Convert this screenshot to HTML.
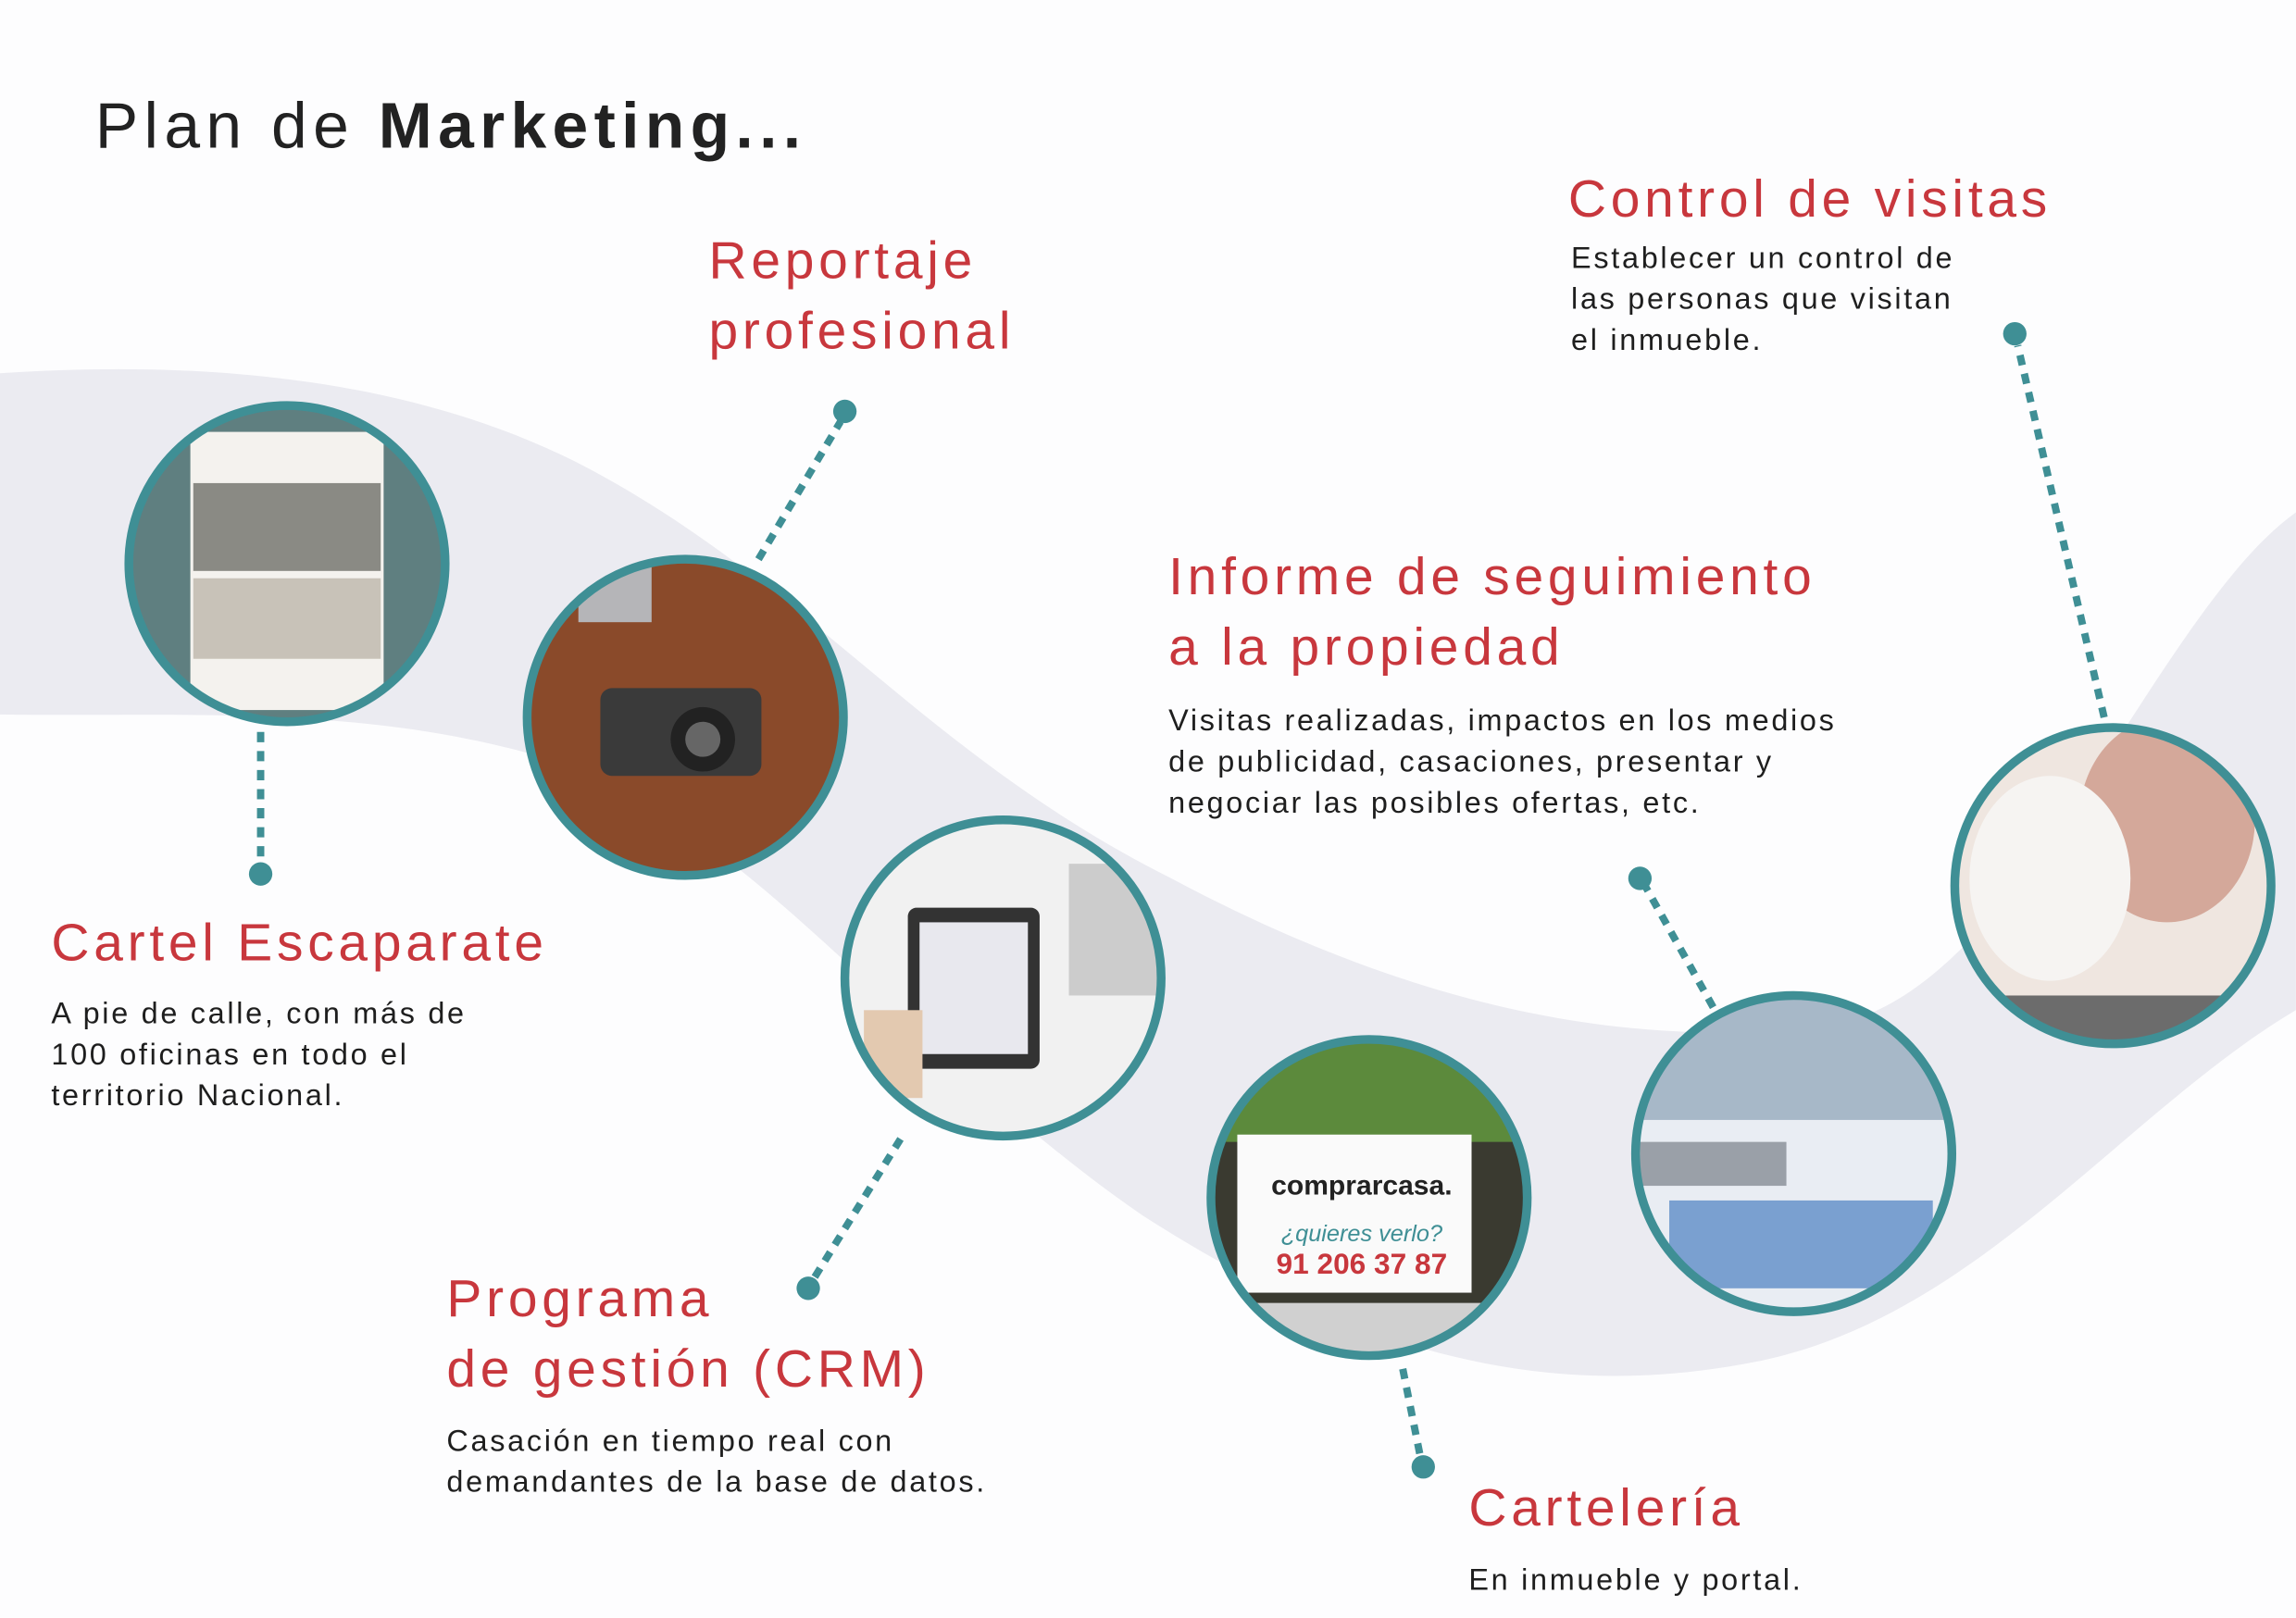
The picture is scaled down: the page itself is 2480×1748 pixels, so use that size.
<!DOCTYPE html>
<html><head><meta charset="utf-8">
<style>
html,body{margin:0;padding:0;background:#fff;width:2480px;height:1748px;overflow:hidden}
#s{position:absolute;left:0;top:0;width:1568px;height:1105px;transform:scale(1.5816);transform-origin:0 0;font-family:"Liberation Sans",sans-serif;background:#fdfdfe}
.t{position:absolute;white-space:nowrap}
.h{color:#c8373d;font-size:36px;line-height:48px;letter-spacing:3px}
.b{color:#1e1e1e;font-size:20.5px;line-height:28px;letter-spacing:1.7px}
</style></head><body>
<div id="s">
<svg width="1568" height="1105" style="position:absolute;left:0;top:0">
<defs>
<clipPath id="c1"><circle cx="196" cy="385" r="107"/></clipPath>
<clipPath id="c2"><circle cx="468" cy="490" r="107"/></clipPath>
<clipPath id="c3"><circle cx="685" cy="668" r="107"/></clipPath>
<clipPath id="c4"><circle cx="935" cy="818" r="107"/></clipPath>
<clipPath id="c5"><circle cx="1225" cy="788" r="107"/></clipPath>
<clipPath id="c6"><circle cx="1443" cy="605" r="107"/></clipPath>
</defs>
<path d="M0,255 C150,245 300,260 420,330 C560,410 640,520 800,600 C950,680 1100,720 1250,700 C1380,680 1470,420 1568,350 L1568,690 C1450,760 1350,900 1200,930 C1050,960 920,920 780,830 C620,720 520,570 380,520 C250,480 120,490 0,488 Z" fill="#ebebf1"/>
<g stroke="#3f8f95" stroke-width="5" stroke-dasharray="7 6" fill="none">
<line x1="178" y1="500" x2="178" y2="592"/>
<line x1="518" y1="382" x2="574" y2="288"/>
<line x1="615" y1="778" x2="556" y2="873"/>
<line x1="958" y1="935" x2="970" y2="995"/>
<line x1="1170" y1="688" x2="1124" y2="606"/>
<line x1="1437" y1="490" x2="1378" y2="236"/>
</g>
<g fill="#3f8f95">
<circle cx="178" cy="597" r="8"/><circle cx="577" cy="281" r="8"/><circle cx="552" cy="880" r="8"/>
<circle cx="972" cy="1002" r="8"/><circle cx="1120" cy="600" r="8"/><circle cx="1376" cy="228" r="8"/>
</g>
<g clip-path="url(#c1)"><rect x="80" y="270" width="240" height="240" fill="#5f7f80"/><rect x="130" y="295" width="132" height="190" fill="#f4f2ee"/><rect x="132" y="330" width="128" height="60" fill="#8a8a84"/><rect x="132" y="395" width="128" height="55" fill="#c8c2b8"/></g>
<g clip-path="url(#c2)"><rect x="350" y="370" width="240" height="240" fill="#8a4a2a"/><rect x="410" y="470" width="110" height="60" rx="8" fill="#3a3a3a"/><circle cx="480" cy="505" r="22" fill="#222"/><circle cx="480" cy="505" r="12" fill="#666"/><rect x="395" y="385" width="50" height="40" fill="#b5b5b8"/></g>
<g clip-path="url(#c3)"><rect x="570" y="555" width="240" height="240" fill="#f1f1f1"/><rect x="620" y="620" width="90" height="110" rx="6" fill="#333"/><rect x="628" y="630" width="74" height="90" fill="#e8e8ee"/><rect x="730" y="590" width="80" height="90" fill="#ccc"/><rect x="590" y="690" width="40" height="60" fill="#e3c9b0"/></g>
<g clip-path="url(#c4)"><rect x="820" y="700" width="240" height="240" fill="#3a3a30"/><rect x="820" y="700" width="240" height="80" fill="#5c8a3c"/><rect x="845" y="775" width="160" height="108" fill="#fafafa"/><rect x="820" y="890" width="240" height="50" fill="#d0d0d0"/></g>
<g clip-path="url(#c5)"><rect x="1110" y="675" width="240" height="240" fill="#e9edf3"/><rect x="1110" y="675" width="240" height="90" fill="#a7b8c8"/><rect x="1140" y="820" width="180" height="60" fill="#4a7fc0" opacity=".7"/><rect x="1120" y="780" width="100" height="30" fill="#9aa0a8"/></g>
<g clip-path="url(#c6)"><rect x="1330" y="490" width="240" height="240" fill="#efe6e0"/><ellipse cx="1480" cy="560" rx="60" ry="70" fill="#d4a89a"/><ellipse cx="1400" cy="600" rx="55" ry="70" fill="#f6f4f2"/><rect x="1330" y="680" width="240" height="50" fill="#6c6c6c"/></g>
<g fill="none" stroke="#3f8f95" stroke-width="6">
<circle cx="196" cy="385" r="108"/><circle cx="468" cy="490" r="108"/><circle cx="685" cy="668" r="108"/>
<circle cx="935" cy="818" r="108"/><circle cx="1225" cy="788" r="108"/><circle cx="1443" cy="605" r="108"/>
</g>
<text x="930" y="816" text-anchor="middle" font-family="Liberation Sans" font-weight="bold" font-size="19" fill="#222">comprarcasa.</text>
<text x="930" y="848" text-anchor="middle" font-family="Liberation Sans" font-style="italic" font-size="16" fill="#3f8f95">¿quieres verlo?</text>
<text x="930" y="870" text-anchor="middle" font-family="Liberation Sans" font-weight="bold" font-size="20" fill="#c8373d">91 206 37 87</text>
</svg>
<div class="t" style="left:65px;top:62px;font-size:44px;color:#222;letter-spacing:4px">Plan de <b>Marketing...</b></div>
<div class="t h" style="left:484px;top:154px">Reportaje<br>profesional</div>
<div class="t h" style="left:1071px;top:112px">Control de visitas</div>
<div class="t b" style="left:1073px;top:163px">Establecer un control de<br>las personas que visitan<br>el inmueble.</div>
<div class="t h" style="left:798px;top:370px">Informe de seguimiento<br>a la propiedad</div>
<div class="t b" style="left:798px;top:479px">Visitas realizadas, impactos en los medios<br>de publicidad, casaciones, presentar y<br>negociar las posibles ofertas, etc.</div>
<div class="t h" style="left:35px;top:620px">Cartel Escaparate</div>
<div class="t b" style="left:35px;top:679px">A pie de calle, con más de<br>100 oficinas en todo el<br>territorio Nacional.</div>
<div class="t h" style="left:305px;top:863px">Programa<br>de gestión (CRM)</div>
<div class="t b" style="left:305px;top:971px">Casación en tiempo real con<br>demandantes de la base de datos.</div>
<div class="t h" style="left:1003px;top:1006px">Cartelería</div>
<div class="t b" style="left:1003px;top:1066px">En inmueble y portal.</div>
</div>
</body></html>
